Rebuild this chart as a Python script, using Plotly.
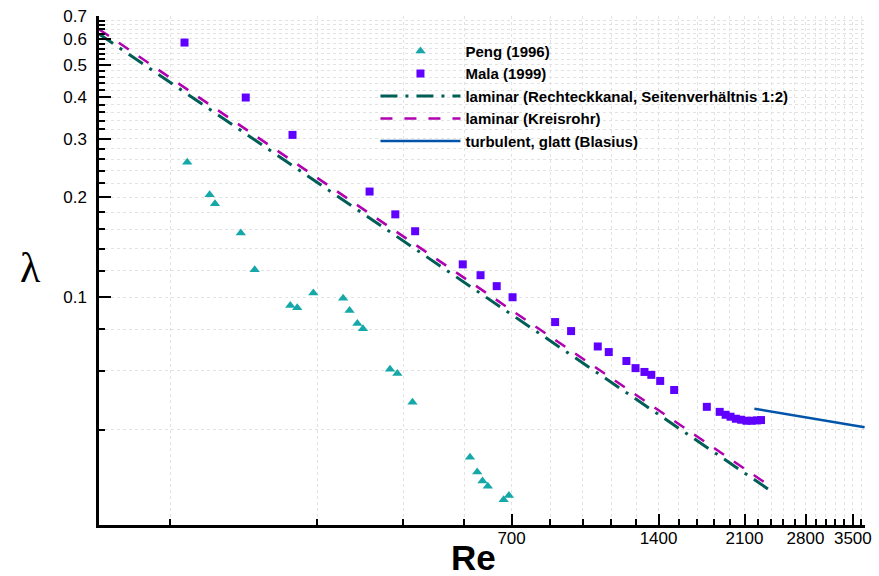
import plotly.graph_objects as go

# ---------------- data ----------------
peng_re = [151.6, 168.5, 172.8, 195.2, 208.4, 246.5, 254.7, 274.8, 316.3, 326.0,
           338.2, 347.3, 394.5, 408.4, 438.6, 575.3, 595.2, 610.3, 625.8, 674.3, 691.3]
peng_lam = [0.255, 0.2035, 0.191, 0.156, 0.121, 0.0945, 0.093, 0.103, 0.0993, 0.0913,
            0.0834, 0.0804, 0.0607, 0.059, 0.0483, 0.033, 0.0298, 0.028, 0.027, 0.0246, 0.0253]

mala_re = [149.7, 199.8, 249.1, 358.3, 404.5, 444.2, 556.0, 604.7, 652.6, 703.3,
           859.6, 926.8, 1051, 1107, 1203, 1256, 1310, 1353, 1411, 1507,
           1758, 1868, 1921, 1966, 2016, 2067, 2119, 2172, 2227, 2270]
mala_lam = [0.584, 0.399, 0.308, 0.208, 0.1776, 0.158, 0.1256, 0.1165, 0.108, 0.100,
            0.0842, 0.0791, 0.0711, 0.0684, 0.0643, 0.0612, 0.0596, 0.0584, 0.056, 0.0526,
            0.0468, 0.0452, 0.0443, 0.0437, 0.0431, 0.0428, 0.0425, 0.0425, 0.0426, 0.0427]

rect_re = [100, 2400]
rect_lam = [0.62, 0.0259]
circ_re = [100, 2320]
circ_lam = [0.64, 0.0276]
blas_re = [2200, 3700]
blas_lam = [0.0462, 0.0406]

x_major = [700, 1400, 2100, 2800, 3500]
x_major_text = ["700", "1400", "2100", "2800", "3500"]
y_major = [0.1, 0.2, 0.3, 0.4, 0.5, 0.6, 0.7]
y_major_text = ["0.1", "0.2", "0.3", "0.4", "0.5", "0.6", "0.7"]

x_minor = [v * 140 for v in range(1, 27) if (v * 140) not in x_major]
y_minor = [round(v * 0.02, 2) for v in range(2, 36) if v % 5 != 0]

# ---------------- figure ----------------
fig = go.Figure()
fig.add_trace(go.Scatter(x=peng_re, y=peng_lam, mode="markers", name="Peng (1996)",
                         marker=dict(symbol="triangle-up", size=9, color="rgb(22,168,168)")))
fig.add_trace(go.Scatter(x=mala_re, y=mala_lam, mode="markers", name="Mala (1999)",
                         marker=dict(symbol="square", size=8, color="rgb(96,0,255)")))
fig.add_trace(go.Scatter(x=rect_re, y=rect_lam, mode="lines",
                         name="laminar (Rechteckkanal, Seitenverhältnis 1:2)",
                         line=dict(color="rgb(0,94,86)", width=3, dash="17px,8px,3px,8px")))
fig.add_trace(go.Scatter(x=circ_re, y=circ_lam, mode="lines", name="laminar (Kreisrohr)",
                         line=dict(color="rgb(176,0,176)", width=2.5, dash="12px,12px")))
fig.add_trace(go.Scatter(x=blas_re, y=blas_lam, mode="lines", name="turbulent, glatt (Blasius)",
                         line=dict(color="rgb(0,85,170)", width=2.5)))

grid = dict(showgrid=True, gridcolor="rgb(226,226,226)", griddash="dot", gridwidth=1)

fig.update_xaxes(type="log", range=[2.0, 3.569], tickmode="array", tickvals=x_major,
                 ticktext=x_major_text, ticks="inside", ticklen=11, tickwidth=2,
                 tickcolor="black", showline=True, linewidth=2.5, linecolor="black",
                 zeroline=False, tickfont=dict(size=17, color="black"), ticklabelstandoff=-4,
                 minor=dict(tickmode="array", tickvals=x_minor, ticks="inside", ticklen=6,
                            tickwidth=1.5, tickcolor="black", **grid),
                 **grid)
fig.update_yaxes(type="log", range=[-1.6853, -0.1537], tickmode="array", tickvals=y_major,
                 ticktext=y_major_text, ticks="inside", ticklen=12, tickwidth=2,
                 tickcolor="black", showline=True, linewidth=2.5, linecolor="black",
                 zeroline=False, tickfont=dict(size=17, color="black"), ticklabelstandoff=6,
                 minor=dict(tickmode="array", tickvals=y_minor, ticks="inside", ticklen=6,
                            tickwidth=1.5, tickcolor="black", **grid),
                 **grid)

fig.update_layout(
    width=879, height=576,
    margin=dict(l=99, r=7, t=15, b=51),
    plot_bgcolor="white", paper_bgcolor="white",
    font=dict(family="Liberation Sans, Arial, sans-serif", color="black"),
    showlegend=True,
    legend=dict(x=0.3609, y=0.963, xanchor="left", yanchor="top",
                bgcolor="rgba(0,0,0,0)", font=dict(size=15, weight="bold", color="black"),
                itemwidth=80, tracegroupgap=0),
    annotations=[
        dict(text="<b>Re</b>", xref="paper", yref="paper", x=0.489, y=-0.063,
             xanchor="center", yanchor="middle", showarrow=False,
             font=dict(size=35, family="Liberation Sans, Arial", color="black")),
        dict(text="λ", xref="paper", yref="paper", x=-0.089, y=0.504,
             xanchor="center", yanchor="middle", showarrow=False,
             font=dict(size=42, family="Liberation Serif, serif", color="black")),
    ],
)

fig.write_html("out.html")
